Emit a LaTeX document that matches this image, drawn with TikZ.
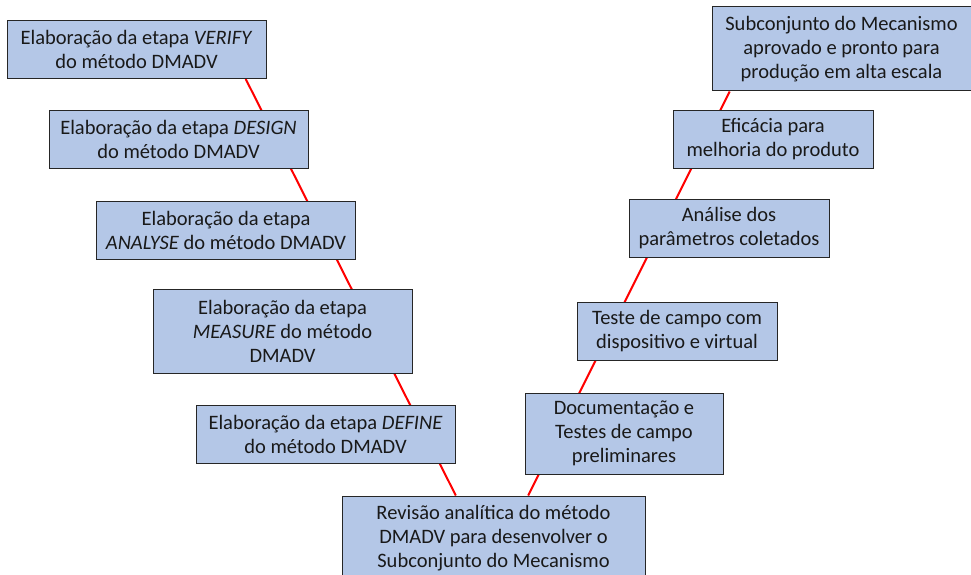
\documentclass[tikz,border=0pt]{standalone}
\usepackage{fontspec}
\setmainfont{Carlito}
\usepackage{xcolor}
\usetikzlibrary{calc,backgrounds}
\definecolor{boxblue}{HTML}{B4C7E7}

\begin{document}
\begin{tikzpicture}[x=1pt, y=-1pt,
    etapa/.style={draw=black!85, fill=boxblue, line width=1pt, align=center, inner sep=0pt,
      minimum width=259pt, minimum height=58pt, text=black!90, font=\fontsize{20.5}{24}\selectfont},
    elo/.style={red, line width=2pt}]
    \useasboundingbox (0,0) rectangle (971,575);
    \node[etapa] (verify) at (136.5,49.5) {Elaboração da etapa \textit{VERIFY}\\do método DMADV};
    \node[etapa] (design) at (178.5,139.5) {Elaboração da etapa \textit{DESIGN}\\do método DMADV};
    \node[etapa] (analyse) at (226,230) {Elaboração da etapa\\\textit{ANALYSE} do método DMADV};
    \node[etapa, minimum height=84pt] (measure) at (282.5,331) {Elaboração da etapa\\\textit{MEASURE} do método\\DMADV};
    \node[etapa] (define) at (325.5,434) {Elaboração da etapa \textit{DEFINE}\\do método DMADV};
    \node[etapa, minimum width=303pt, minimum height=84pt] (revisao) at (493.5,538) {Revisão analítica do método\\DMADV para desenvolver o\\Subconjunto do Mecanismo};
    \node[etapa, minimum width=198pt, minimum height=81pt] (documentacao) at (624,433.5) {Documentação e\\Testes de campo\\preliminares};
    \node[etapa, minimum width=200pt] (teste) at (677,331) {Teste de campo com\\dispositivo e virtual};
    \node[etapa, minimum width=200pt] (analise) at (729,228) {Análise dos\\parâmetros coletados};
    \node[etapa, minimum width=200pt] (eficacia) at (773,139.5) {Eficácia para\\melhoria do produto};
    \node[etapa, minimum height=84pt] (subconjunto) at (841.5,49) {Subconjunto do Mecanismo\\aprovado e pronto para\\produção em alta escala};
    \coordinate (esq) at ($(verify.south west)!0.92!(verify.south east)$);
    \coordinate (base esq) at ($(revisao.north west)!0.376!(revisao.north east)$);
    \coordinate (base dir) at ($(revisao.north west)!0.614!(revisao.north east)$);
    \coordinate (dir) at ($(subconjunto.south west)!0.07!(subconjunto.south east)$);
    \begin{scope}[on background layer]
      \draw[elo] (esq) -- (base esq);
      \draw[elo] (base dir) -- (dir);
    \end{scope}
\end{tikzpicture}
\end{document}
